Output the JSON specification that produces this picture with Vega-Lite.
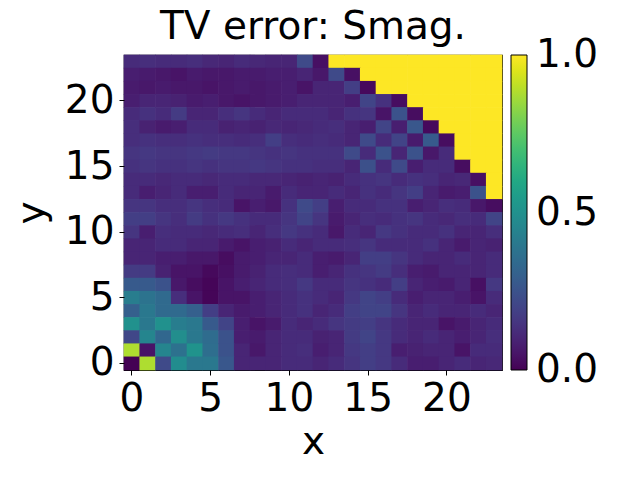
{
"$schema":"https://vega.github.io/schema/vega-lite/v6.json",
"autosize":{"type":"none"},
"padding":{"left":124,"top":55,"right":138,"bottom":110},
"width":378,"height":315,
"background":"white",
"title":{"text":"TV error: Smag.","font":"DejaVu Sans","fontSize":39,"fontWeight":"normal","color":"black","offset":8,"anchor":"middle"},
"config":{"view":{"stroke":"black","strokeWidth":1.2},"font":"DejaVu Sans"},
"data":{"values":[
{"x":0,"y":23,"v":0.12},{"x":1,"y":23,"v":0.13},{"x":2,"y":23,"v":0.12},{"x":3,"y":23,"v":0.12},{"x":4,"y":23,"v":0.13},{"x":5,"y":23,"v":0.11},{"x":6,"y":23,"v":0.10},{"x":7,"y":23,"v":0.12},{"x":8,"y":23,"v":0.11},{"x":9,"y":23,"v":0.10},{"x":10,"y":23,"v":0.10},{"x":11,"y":23,"v":0.22},{"x":12,"y":23,"v":0.04},{"x":13,"y":23,"v":1},{"x":14,"y":23,"v":1},{"x":15,"y":23,"v":1},{"x":16,"y":23,"v":1},{"x":17,"y":23,"v":1},{"x":18,"y":23,"v":1},{"x":19,"y":23,"v":1},{"x":20,"y":23,"v":1},{"x":21,"y":23,"v":1},{"x":22,"y":23,"v":1},{"x":23,"y":23,"v":1},
{"x":0,"y":22,"v":0.08},{"x":1,"y":22,"v":0.07},{"x":2,"y":22,"v":0.06},{"x":3,"y":22,"v":0.05},{"x":4,"y":22,"v":0.07},{"x":5,"y":22,"v":0.06},{"x":6,"y":22,"v":0.06},{"x":7,"y":22,"v":0.07},{"x":8,"y":22,"v":0.07},{"x":9,"y":22,"v":0.08},{"x":10,"y":22,"v":0.08},{"x":11,"y":22,"v":0.10},{"x":12,"y":22,"v":0.06},{"x":13,"y":22,"v":0.22},{"x":14,"y":22,"v":0.04},{"x":15,"y":22,"v":1},{"x":16,"y":22,"v":1},{"x":17,"y":22,"v":1},{"x":18,"y":22,"v":1},{"x":19,"y":22,"v":1},{"x":20,"y":22,"v":1},{"x":21,"y":22,"v":1},{"x":22,"y":22,"v":1},{"x":23,"y":22,"v":1},
{"x":0,"y":21,"v":0.07},{"x":1,"y":21,"v":0.06},{"x":2,"y":21,"v":0.07},{"x":3,"y":21,"v":0.06},{"x":4,"y":21,"v":0.06},{"x":5,"y":21,"v":0.05},{"x":6,"y":21,"v":0.06},{"x":7,"y":21,"v":0.07},{"x":8,"y":21,"v":0.06},{"x":9,"y":21,"v":0.07},{"x":10,"y":21,"v":0.08},{"x":11,"y":21,"v":0.05},{"x":12,"y":21,"v":0.10},{"x":13,"y":21,"v":0.10},{"x":14,"y":21,"v":0.18},{"x":15,"y":21,"v":0.02},{"x":16,"y":21,"v":1},{"x":17,"y":21,"v":1},{"x":18,"y":21,"v":1},{"x":19,"y":21,"v":1},{"x":20,"y":21,"v":1},{"x":21,"y":21,"v":1},{"x":22,"y":21,"v":1},{"x":23,"y":21,"v":1},
{"x":0,"y":20,"v":0.08},{"x":1,"y":20,"v":0.10},{"x":2,"y":20,"v":0.10},{"x":3,"y":20,"v":0.09},{"x":4,"y":20,"v":0.07},{"x":5,"y":20,"v":0.08},{"x":6,"y":20,"v":0.06},{"x":7,"y":20,"v":0.05},{"x":8,"y":20,"v":0.06},{"x":9,"y":20,"v":0.07},{"x":10,"y":20,"v":0.08},{"x":11,"y":20,"v":0.10},{"x":12,"y":20,"v":0.10},{"x":13,"y":20,"v":0.10},{"x":14,"y":20,"v":0.08},{"x":15,"y":20,"v":0.20},{"x":16,"y":20,"v":0.14},{"x":17,"y":20,"v":0.03},{"x":18,"y":20,"v":1},{"x":19,"y":20,"v":1},{"x":20,"y":20,"v":1},{"x":21,"y":20,"v":1},{"x":22,"y":20,"v":1},{"x":23,"y":20,"v":1},
{"x":0,"y":19,"v":0.12},{"x":1,"y":19,"v":0.14},{"x":2,"y":19,"v":0.12},{"x":3,"y":19,"v":0.17},{"x":4,"y":19,"v":0.10},{"x":5,"y":19,"v":0.10},{"x":6,"y":19,"v":0.13},{"x":7,"y":19,"v":0.15},{"x":8,"y":19,"v":0.12},{"x":9,"y":19,"v":0.10},{"x":10,"y":19,"v":0.12},{"x":11,"y":19,"v":0.12},{"x":12,"y":19,"v":0.12},{"x":13,"y":19,"v":0.10},{"x":14,"y":19,"v":0.14},{"x":15,"y":19,"v":0.15},{"x":16,"y":19,"v":0.05},{"x":17,"y":19,"v":0.25},{"x":18,"y":19,"v":0.03},{"x":19,"y":19,"v":1},{"x":20,"y":19,"v":1},{"x":21,"y":19,"v":1},{"x":22,"y":19,"v":1},{"x":23,"y":19,"v":1},
{"x":0,"y":18,"v":0.13},{"x":1,"y":18,"v":0.09},{"x":2,"y":18,"v":0.07},{"x":3,"y":18,"v":0.08},{"x":4,"y":18,"v":0.12},{"x":5,"y":18,"v":0.12},{"x":6,"y":18,"v":0.09},{"x":7,"y":18,"v":0.10},{"x":8,"y":18,"v":0.09},{"x":9,"y":18,"v":0.11},{"x":10,"y":18,"v":0.10},{"x":11,"y":18,"v":0.11},{"x":12,"y":18,"v":0.12},{"x":13,"y":18,"v":0.13},{"x":14,"y":18,"v":0.10},{"x":15,"y":18,"v":0.08},{"x":16,"y":18,"v":0.20},{"x":17,"y":18,"v":0.08},{"x":18,"y":18,"v":0.27},{"x":19,"y":18,"v":0.02},{"x":20,"y":18,"v":1},{"x":21,"y":18,"v":1},{"x":22,"y":18,"v":1},{"x":23,"y":18,"v":1},
{"x":0,"y":17,"v":0.13},{"x":1,"y":17,"v":0.14},{"x":2,"y":17,"v":0.13},{"x":3,"y":17,"v":0.13},{"x":4,"y":17,"v":0.14},{"x":5,"y":17,"v":0.13},{"x":6,"y":17,"v":0.13},{"x":7,"y":17,"v":0.12},{"x":8,"y":17,"v":0.13},{"x":9,"y":17,"v":0.18},{"x":10,"y":17,"v":0.13},{"x":11,"y":17,"v":0.12},{"x":12,"y":17,"v":0.13},{"x":13,"y":17,"v":0.12},{"x":14,"y":17,"v":0.10},{"x":15,"y":17,"v":0.22},{"x":16,"y":17,"v":0.12},{"x":17,"y":17,"v":0.20},{"x":18,"y":17,"v":0.07},{"x":19,"y":17,"v":0.28},{"x":20,"y":17,"v":0.03},{"x":21,"y":17,"v":1},{"x":22,"y":17,"v":1},{"x":23,"y":17,"v":1},
{"x":0,"y":16,"v":0.15},{"x":1,"y":16,"v":0.16},{"x":2,"y":16,"v":0.15},{"x":3,"y":16,"v":0.15},{"x":4,"y":16,"v":0.16},{"x":5,"y":16,"v":0.17},{"x":6,"y":16,"v":0.16},{"x":7,"y":16,"v":0.16},{"x":8,"y":16,"v":0.15},{"x":9,"y":16,"v":0.14},{"x":10,"y":16,"v":0.15},{"x":11,"y":16,"v":0.14},{"x":12,"y":16,"v":0.14},{"x":13,"y":16,"v":0.14},{"x":14,"y":16,"v":0.22},{"x":15,"y":16,"v":0.12},{"x":16,"y":16,"v":0.25},{"x":17,"y":16,"v":0.10},{"x":18,"y":16,"v":0.25},{"x":19,"y":16,"v":0.06},{"x":20,"y":16,"v":0.12},{"x":21,"y":16,"v":1},{"x":22,"y":16,"v":1},{"x":23,"y":16,"v":1},
{"x":0,"y":15,"v":0.14},{"x":1,"y":15,"v":0.15},{"x":2,"y":15,"v":0.14},{"x":3,"y":15,"v":0.14},{"x":4,"y":15,"v":0.15},{"x":5,"y":15,"v":0.14},{"x":6,"y":15,"v":0.15},{"x":7,"y":15,"v":0.15},{"x":8,"y":15,"v":0.16},{"x":9,"y":15,"v":0.15},{"x":10,"y":15,"v":0.14},{"x":11,"y":15,"v":0.14},{"x":12,"y":15,"v":0.13},{"x":13,"y":15,"v":0.13},{"x":14,"y":15,"v":0.10},{"x":15,"y":15,"v":0.24},{"x":16,"y":15,"v":0.12},{"x":17,"y":15,"v":0.22},{"x":18,"y":15,"v":0.08},{"x":19,"y":15,"v":0.12},{"x":20,"y":15,"v":0.12},{"x":21,"y":15,"v":0.03},{"x":22,"y":15,"v":1},{"x":23,"y":15,"v":1},
{"x":0,"y":14,"v":0.12},{"x":1,"y":14,"v":0.12},{"x":2,"y":14,"v":0.11},{"x":3,"y":14,"v":0.12},{"x":4,"y":14,"v":0.12},{"x":5,"y":14,"v":0.11},{"x":6,"y":14,"v":0.12},{"x":7,"y":14,"v":0.12},{"x":8,"y":14,"v":0.11},{"x":9,"y":14,"v":0.11},{"x":10,"y":14,"v":0.10},{"x":11,"y":14,"v":0.09},{"x":12,"y":14,"v":0.10},{"x":13,"y":14,"v":0.09},{"x":14,"y":14,"v":0.12},{"x":15,"y":14,"v":0.14},{"x":16,"y":14,"v":0.15},{"x":17,"y":14,"v":0.12},{"x":18,"y":14,"v":0.14},{"x":19,"y":14,"v":0.13},{"x":20,"y":14,"v":0.10},{"x":21,"y":14,"v":0.11},{"x":22,"y":14,"v":0.04},{"x":23,"y":14,"v":1},
{"x":0,"y":13,"v":0.12},{"x":1,"y":13,"v":0.08},{"x":2,"y":13,"v":0.10},{"x":3,"y":13,"v":0.12},{"x":4,"y":13,"v":0.08},{"x":5,"y":13,"v":0.08},{"x":6,"y":13,"v":0.12},{"x":7,"y":13,"v":0.10},{"x":8,"y":13,"v":0.10},{"x":9,"y":13,"v":0.07},{"x":10,"y":13,"v":0.12},{"x":11,"y":13,"v":0.10},{"x":12,"y":13,"v":0.10},{"x":13,"y":13,"v":0.12},{"x":14,"y":13,"v":0.10},{"x":15,"y":13,"v":0.14},{"x":16,"y":13,"v":0.12},{"x":17,"y":13,"v":0.15},{"x":18,"y":13,"v":0.18},{"x":19,"y":13,"v":0.10},{"x":20,"y":13,"v":0.07},{"x":21,"y":13,"v":0.08},{"x":22,"y":13,"v":0.25},{"x":23,"y":13,"v":1},
{"x":0,"y":12,"v":0.15},{"x":1,"y":12,"v":0.15},{"x":2,"y":12,"v":0.13},{"x":3,"y":12,"v":0.13},{"x":4,"y":12,"v":0.15},{"x":5,"y":12,"v":0.13},{"x":6,"y":12,"v":0.12},{"x":7,"y":12,"v":0.05},{"x":8,"y":12,"v":0.08},{"x":9,"y":12,"v":0.06},{"x":10,"y":12,"v":0.14},{"x":11,"y":12,"v":0.22},{"x":12,"y":12,"v":0.18},{"x":13,"y":12,"v":0.08},{"x":14,"y":12,"v":0.12},{"x":15,"y":12,"v":0.12},{"x":16,"y":12,"v":0.14},{"x":17,"y":12,"v":0.14},{"x":18,"y":12,"v":0.08},{"x":19,"y":12,"v":0.10},{"x":20,"y":12,"v":0.13},{"x":21,"y":12,"v":0.12},{"x":22,"y":12,"v":0.06},{"x":23,"y":12,"v":0.03},
{"x":0,"y":11,"v":0.18},{"x":1,"y":11,"v":0.18},{"x":2,"y":11,"v":0.15},{"x":3,"y":11,"v":0.13},{"x":4,"y":11,"v":0.17},{"x":5,"y":11,"v":0.14},{"x":6,"y":11,"v":0.16},{"x":7,"y":11,"v":0.14},{"x":8,"y":11,"v":0.12},{"x":9,"y":11,"v":0.12},{"x":10,"y":11,"v":0.15},{"x":11,"y":11,"v":0.20},{"x":12,"y":11,"v":0.15},{"x":13,"y":11,"v":0.07},{"x":14,"y":11,"v":0.10},{"x":15,"y":11,"v":0.13},{"x":16,"y":11,"v":0.12},{"x":17,"y":11,"v":0.14},{"x":18,"y":11,"v":0.15},{"x":19,"y":11,"v":0.12},{"x":20,"y":11,"v":0.11},{"x":21,"y":11,"v":0.13},{"x":22,"y":11,"v":0.12},{"x":23,"y":11,"v":0.20},
{"x":0,"y":10,"v":0.15},{"x":1,"y":10,"v":0.08},{"x":2,"y":10,"v":0.13},{"x":3,"y":10,"v":0.12},{"x":4,"y":10,"v":0.12},{"x":5,"y":10,"v":0.11},{"x":6,"y":10,"v":0.12},{"x":7,"y":10,"v":0.13},{"x":8,"y":10,"v":0.10},{"x":9,"y":10,"v":0.13},{"x":10,"y":10,"v":0.16},{"x":11,"y":10,"v":0.14},{"x":12,"y":10,"v":0.12},{"x":13,"y":10,"v":0.06},{"x":14,"y":10,"v":0.12},{"x":15,"y":10,"v":0.10},{"x":16,"y":10,"v":0.16},{"x":17,"y":10,"v":0.14},{"x":18,"y":10,"v":0.12},{"x":19,"y":10,"v":0.12},{"x":20,"y":10,"v":0.14},{"x":21,"y":10,"v":0.10},{"x":22,"y":10,"v":0.10},{"x":23,"y":10,"v":0.13},
{"x":0,"y":9,"v":0.10},{"x":1,"y":9,"v":0.10},{"x":2,"y":9,"v":0.12},{"x":3,"y":9,"v":0.12},{"x":4,"y":9,"v":0.10},{"x":5,"y":9,"v":0.10},{"x":6,"y":9,"v":0.07},{"x":7,"y":9,"v":0.05},{"x":8,"y":9,"v":0.08},{"x":9,"y":9,"v":0.09},{"x":10,"y":9,"v":0.12},{"x":11,"y":9,"v":0.10},{"x":12,"y":9,"v":0.12},{"x":13,"y":9,"v":0.12},{"x":14,"y":9,"v":0.13},{"x":15,"y":9,"v":0.15},{"x":16,"y":9,"v":0.12},{"x":17,"y":9,"v":0.12},{"x":18,"y":9,"v":0.12},{"x":19,"y":9,"v":0.14},{"x":20,"y":9,"v":0.10},{"x":21,"y":9,"v":0.07},{"x":22,"y":9,"v":0.10},{"x":23,"y":9,"v":0.09},
{"x":0,"y":8,"v":0.10},{"x":1,"y":8,"v":0.10},{"x":2,"y":8,"v":0.08},{"x":3,"y":8,"v":0.08},{"x":4,"y":8,"v":0.06},{"x":5,"y":8,"v":0.06},{"x":6,"y":8,"v":0.03},{"x":7,"y":8,"v":0.07},{"x":8,"y":8,"v":0.08},{"x":9,"y":8,"v":0.10},{"x":10,"y":8,"v":0.10},{"x":11,"y":8,"v":0.12},{"x":12,"y":8,"v":0.08},{"x":13,"y":8,"v":0.07},{"x":14,"y":8,"v":0.10},{"x":15,"y":8,"v":0.18},{"x":16,"y":8,"v":0.18},{"x":17,"y":8,"v":0.15},{"x":18,"y":8,"v":0.12},{"x":19,"y":8,"v":0.10},{"x":20,"y":8,"v":0.10},{"x":21,"y":8,"v":0.12},{"x":22,"y":8,"v":0.10},{"x":23,"y":8,"v":0.12},
{"x":0,"y":7,"v":0.17},{"x":1,"y":7,"v":0.17},{"x":2,"y":7,"v":0.09},{"x":3,"y":7,"v":0.05},{"x":4,"y":7,"v":0.05},{"x":5,"y":7,"v":0.02},{"x":6,"y":7,"v":0.04},{"x":7,"y":7,"v":0.07},{"x":8,"y":7,"v":0.09},{"x":9,"y":7,"v":0.12},{"x":10,"y":7,"v":0.13},{"x":11,"y":7,"v":0.12},{"x":12,"y":7,"v":0.08},{"x":13,"y":7,"v":0.10},{"x":14,"y":7,"v":0.14},{"x":15,"y":7,"v":0.15},{"x":16,"y":7,"v":0.17},{"x":17,"y":7,"v":0.13},{"x":18,"y":7,"v":0.08},{"x":19,"y":7,"v":0.07},{"x":20,"y":7,"v":0.10},{"x":21,"y":7,"v":0.10},{"x":22,"y":7,"v":0.10},{"x":23,"y":7,"v":0.12},
{"x":0,"y":6,"v":0.28},{"x":1,"y":6,"v":0.28},{"x":2,"y":6,"v":0.25},{"x":3,"y":6,"v":0.06},{"x":4,"y":6,"v":0.03},{"x":5,"y":6,"v":0.01},{"x":6,"y":6,"v":0.05},{"x":7,"y":6,"v":0.08},{"x":8,"y":6,"v":0.10},{"x":9,"y":6,"v":0.12},{"x":10,"y":6,"v":0.13},{"x":11,"y":6,"v":0.16},{"x":12,"y":6,"v":0.12},{"x":13,"y":6,"v":0.12},{"x":14,"y":6,"v":0.15},{"x":15,"y":6,"v":0.14},{"x":16,"y":6,"v":0.12},{"x":17,"y":6,"v":0.18},{"x":18,"y":6,"v":0.10},{"x":19,"y":6,"v":0.08},{"x":20,"y":6,"v":0.07},{"x":21,"y":6,"v":0.10},{"x":22,"y":6,"v":0.04},{"x":23,"y":6,"v":0.16},
{"x":0,"y":5,"v":0.42},{"x":1,"y":5,"v":0.38},{"x":2,"y":5,"v":0.34},{"x":3,"y":5,"v":0.13},{"x":4,"y":5,"v":0.05},{"x":5,"y":5,"v":0.01},{"x":6,"y":5,"v":0.05},{"x":7,"y":5,"v":0.05},{"x":8,"y":5,"v":0.08},{"x":9,"y":5,"v":0.10},{"x":10,"y":5,"v":0.12},{"x":11,"y":5,"v":0.14},{"x":12,"y":5,"v":0.12},{"x":13,"y":5,"v":0.10},{"x":14,"y":5,"v":0.16},{"x":15,"y":5,"v":0.20},{"x":16,"y":5,"v":0.18},{"x":17,"y":5,"v":0.12},{"x":18,"y":5,"v":0.08},{"x":19,"y":5,"v":0.10},{"x":20,"y":5,"v":0.10},{"x":21,"y":5,"v":0.08},{"x":22,"y":5,"v":0.05},{"x":23,"y":5,"v":0.12},
{"x":0,"y":4,"v":0.30},{"x":1,"y":4,"v":0.40},{"x":2,"y":4,"v":0.34},{"x":3,"y":4,"v":0.34},{"x":4,"y":4,"v":0.30},{"x":5,"y":4,"v":0.18},{"x":6,"y":4,"v":0.10},{"x":7,"y":4,"v":0.07},{"x":8,"y":4,"v":0.08},{"x":9,"y":4,"v":0.10},{"x":10,"y":4,"v":0.12},{"x":11,"y":4,"v":0.14},{"x":12,"y":4,"v":0.10},{"x":13,"y":4,"v":0.12},{"x":14,"y":4,"v":0.18},{"x":15,"y":4,"v":0.20},{"x":16,"y":4,"v":0.20},{"x":17,"y":4,"v":0.15},{"x":18,"y":4,"v":0.10},{"x":19,"y":4,"v":0.12},{"x":20,"y":4,"v":0.10},{"x":21,"y":4,"v":0.10},{"x":22,"y":4,"v":0.12},{"x":23,"y":4,"v":0.10},
{"x":0,"y":3,"v":0.50},{"x":1,"y":3,"v":0.40},{"x":2,"y":3,"v":0.50},{"x":3,"y":3,"v":0.42},{"x":4,"y":3,"v":0.40},{"x":5,"y":3,"v":0.28},{"x":6,"y":3,"v":0.20},{"x":7,"y":3,"v":0.08},{"x":8,"y":3,"v":0.05},{"x":9,"y":3,"v":0.07},{"x":10,"y":3,"v":0.12},{"x":11,"y":3,"v":0.10},{"x":12,"y":3,"v":0.12},{"x":13,"y":3,"v":0.15},{"x":14,"y":3,"v":0.17},{"x":15,"y":3,"v":0.18},{"x":16,"y":3,"v":0.15},{"x":17,"y":3,"v":0.12},{"x":18,"y":3,"v":0.10},{"x":19,"y":3,"v":0.10},{"x":20,"y":3,"v":0.05},{"x":21,"y":3,"v":0.07},{"x":22,"y":3,"v":0.10},{"x":23,"y":3,"v":0.12},
{"x":0,"y":2,"v":0.21},{"x":1,"y":2,"v":0.45},{"x":2,"y":2,"v":0.33},{"x":3,"y":2,"v":0.49},{"x":4,"y":2,"v":0.40},{"x":5,"y":2,"v":0.35},{"x":6,"y":2,"v":0.25},{"x":7,"y":2,"v":0.08},{"x":8,"y":2,"v":0.07},{"x":9,"y":2,"v":0.10},{"x":10,"y":2,"v":0.12},{"x":11,"y":2,"v":0.12},{"x":12,"y":2,"v":0.09},{"x":13,"y":2,"v":0.10},{"x":14,"y":2,"v":0.17},{"x":15,"y":2,"v":0.20},{"x":16,"y":2,"v":0.16},{"x":17,"y":2,"v":0.12},{"x":18,"y":2,"v":0.10},{"x":19,"y":2,"v":0.12},{"x":20,"y":2,"v":0.10},{"x":21,"y":2,"v":0.08},{"x":22,"y":2,"v":0.10},{"x":23,"y":2,"v":0.13},
{"x":0,"y":1,"v":0.88},{"x":1,"y":1,"v":0.05},{"x":2,"y":1,"v":0.45},{"x":3,"y":1,"v":0.37},{"x":4,"y":1,"v":0.51},{"x":5,"y":1,"v":0.36},{"x":6,"y":1,"v":0.25},{"x":7,"y":1,"v":0.10},{"x":8,"y":1,"v":0.06},{"x":9,"y":1,"v":0.10},{"x":10,"y":1,"v":0.12},{"x":11,"y":1,"v":0.13},{"x":12,"y":1,"v":0.08},{"x":13,"y":1,"v":0.10},{"x":14,"y":1,"v":0.16},{"x":15,"y":1,"v":0.18},{"x":16,"y":1,"v":0.16},{"x":17,"y":1,"v":0.08},{"x":18,"y":1,"v":0.09},{"x":19,"y":1,"v":0.10},{"x":20,"y":1,"v":0.10},{"x":21,"y":1,"v":0.05},{"x":22,"y":1,"v":0.12},{"x":23,"y":1,"v":0.12},
{"x":0,"y":0,"v":0.00},{"x":1,"y":0,"v":0.88},{"x":2,"y":0,"v":0.22},{"x":3,"y":0,"v":0.48},{"x":4,"y":0,"v":0.40},{"x":5,"y":0,"v":0.40},{"x":6,"y":0,"v":0.27},{"x":7,"y":0,"v":0.10},{"x":8,"y":0,"v":0.10},{"x":9,"y":0,"v":0.10},{"x":10,"y":0,"v":0.12},{"x":11,"y":0,"v":0.12},{"x":12,"y":0,"v":0.10},{"x":13,"y":0,"v":0.12},{"x":14,"y":0,"v":0.15},{"x":15,"y":0,"v":0.18},{"x":16,"y":0,"v":0.16},{"x":17,"y":0,"v":0.12},{"x":18,"y":0,"v":0.08},{"x":19,"y":0,"v":0.08},{"x":20,"y":0,"v":0.10},{"x":21,"y":0,"v":0.12},{"x":22,"y":0,"v":0.10},{"x":23,"y":0,"v":0.11}
]},
"mark":{"type":"rect","width":{"band":1.04},"height":{"band":1.05}},
"encoding":{
"x":{"field":"x","type":"ordinal","scale":{"paddingInner":0,"paddingOuter":0},
 "axis":{"values":[0,5,10,15,20],"labelAngle":0,"title":"x","titleFontSize":39,"titleFontWeight":"normal","titleColor":"black","labelFontSize":39,"labelColor":"black","tickColor":"black","tickSize":5,"labelPadding":4,"titlePadding":4,"domain":false,"grid":false,"labelFont":"DejaVu Sans","titleFont":"DejaVu Sans"}},
"y":{"field":"y","type":"ordinal","sort":"descending","scale":{"paddingInner":0,"paddingOuter":0},
 "axis":{"values":[0,5,10,15,20],"title":"y","titleFontSize":39,"titleFontWeight":"normal","titleColor":"black","labelFontSize":39,"labelColor":"black","tickColor":"black","tickSize":5,"labelPadding":5,"titlePadding":13,"domain":false,"grid":false,"labelFont":"DejaVu Sans","titleFont":"DejaVu Sans"}},
"color":{"field":"v","type":"quantitative","scale":{"scheme":"viridis","domain":[0,1],"clamp":true},
 "legend":{"title":null,"type":"gradient","gradientLength":315,"gradientThickness":16,"values":[0,0.5,1],"format":".1f","labelFontSize":39,"labelColor":"black","labelFont":"DejaVu Sans","labelOffset":9,"offset":9,"padding":0,"gradientStrokeColor":"black","gradientStrokeWidth":1,"labelOverlap":false,
  "encode":{"labels":{"update":{"baseline":{"value":"middle"}}}}}}
}
}
